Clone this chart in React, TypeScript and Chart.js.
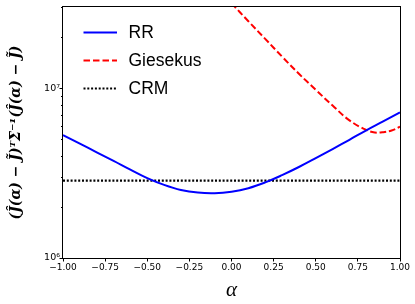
import React, { useEffect, useRef } from "react";
import { Chart, registerables } from "chart.js";

Chart.register(...registerables);

// ---- data ----
const rrAlpha = [-1.0, -0.9, -0.8, -0.7, -0.6, -0.5, -0.4, -0.3, -0.2, -0.1, 0.0, 0.1, 0.2, 0.3, 0.4, 0.5, 0.6, 0.7, 0.8, 0.9, 1.0];
const rrValues = [5.31e6, 4.73e6, 4.2e6, 3.74e6, 3.32e6, 2.96e6, 2.7e6, 2.52e6, 2.43e6, 2.41e6, 2.46e6, 2.58e6, 2.79e6, 3.08e6, 3.44e6, 3.88e6, 4.39e6, 4.98e6, 5.66e6, 6.39e6, 7.22e6];

const giesekusAlpha = [0.0, 0.1, 0.2, 0.3, 0.4, 0.5, 0.6, 0.7, 0.8, 0.85, 0.9, 0.95, 1.0];
const giesekusValues = [3.18e7, 2.49e7, 1.96e7, 1.54e7, 1.22e7, 9.81e6, 7.92e6, 6.48e6, 5.69e6, 5.5e6, 5.52e6, 5.65e6, 5.94e6];

const crmAlpha = [-1.0, 1.0];
const crmValues = [2.86e6, 2.86e6];

const seriesLabels = ["RR", "Giesekus", "CRM"];

const xTickValues = [-1, -0.75, -0.5, -0.25, 0, 0.25, 0.5, 0.75, 1];
const yTickValues = [1e6, 1e7];
const yTickLabels = ["10\u2076", "10\u2077"];

const yMin = 1e6;
const yMax = 3.02e7;

const yTitle = "(\u0134(\u03B1) \u2212 J\u0303)\u1D40\u03A3\u207B\u00B9(\u0134(\u03B1) \u2212 J\u0303)";
const xTitle = "\u03B1";

function pts(xs: number[], ys: number[]) {
  return xs.map((x, i) => ({ x, y: ys[i] }));
}

const framePlugin = {
  id: "frameAndTicks",
  afterDatasetsDraw(chart: any) {
    const { ctx, chartArea } = chart;
    const { left, right, top, bottom } = chartArea;
    const ys = chart.scales.y;
    ctx.save();
    ctx.strokeStyle = "#000";
    ctx.lineWidth = 1;
    ctx.setLineDash([]);
    ys.ticks.forEach((t: any) => {
      const v = t.value;
      const e = Math.floor(Math.log10(v) + 1e-9);
      const m = v / Math.pow(10, e);
      const isMajor = Math.abs(m - 1) < 1e-6;
      const isMinor = Math.abs(m - Math.round(m)) < 1e-6 && m >= 2 && m <= 9;
      if (!isMajor && !isMinor) return;
      const y = Math.round(ys.getPixelForValue(v)) + 0.5;
      const len = isMajor ? 3.5 : 2;
      ctx.beginPath();
      ctx.moveTo(left - len, y);
      ctx.lineTo(left, y);
      ctx.stroke();
    });
    ctx.strokeRect(Math.round(left) - 0.5, Math.round(top) - 0.5, Math.round(right - left) + 1, Math.round(bottom - top) + 1);

    const lx0 = left + 20.5;
    const lx1 = left + 54;
    const tx = left + 65.5;
    ctx.font = "17.5px 'Liberation Sans', Arial, sans-serif";
    ctx.textBaseline = "middle";
    ctx.textAlign = "left";
    chart.data.datasets.forEach((ds: any, i: number) => {
      const y = top + 25.5 + 28 * i;
      ctx.beginPath();
      ctx.strokeStyle = ds.borderColor;
      ctx.lineWidth = ds.borderWidth;
      ctx.setLineDash(ds.borderDash || []);
      ctx.moveTo(lx0, y);
      ctx.lineTo(lx1, y);
      ctx.stroke();
      ctx.setLineDash([]);
      ctx.fillStyle = "#000";
      ctx.fillText(ds.label, tx, y + 1);
    });
    ctx.restore();
  },
};

export default function App() {
  const ref = useRef<HTMLCanvasElement | null>(null);

  useEffect(() => {
    document.body.style.margin = "0";
    const canvas = ref.current;
    if (!canvas) return;
    const chart = new Chart(canvas, {
      type: "line",
      data: {
        datasets: [
          {
            label: seriesLabels[0],
            data: pts(rrAlpha, rrValues),
            borderColor: "#0000ff",
            borderWidth: 2,
            pointRadius: 0,
            tension: 0.4,
            fill: false,
          },
          {
            label: seriesLabels[1],
            data: pts(giesekusAlpha, giesekusValues),
            borderColor: "#ff0000",
            borderWidth: 2,
            borderDash: [6.5, 3],
            pointRadius: 0,
            tension: 0.4,
            fill: false,
          },
          {
            label: seriesLabels[2],
            data: pts(crmAlpha, crmValues),
            borderColor: "#000000",
            borderWidth: 2.2,
            borderDash: [2, 1.8],
            pointRadius: 0,
            fill: false,
          },
        ],
      } as any,
      options: {
        responsive: false,
        animation: false,
        devicePixelRatio: 1,
        layout: { padding: { left: 0, right: 15, top: 7, bottom: 0 } },
        plugins: {
          legend: { display: false },
          tooltip: { enabled: false },
        },
        scales: {
          x: {
            type: "linear",
            min: -1,
            max: 1,
            afterFit: (s: any) => {
              s.height = 46;
              s.paddingLeft = 0;
              s.paddingRight = 0;
            },
            afterBuildTicks: (s: any) => {
              s.ticks = xTickValues.map((v) => ({ value: v }));
            },
            ticks: {
              color: "#000",
              font: { family: "'DejaVu Sans'", size: 9 },
              padding: 1,
              maxRotation: 0,
              autoSkip: false,
              callback: (v: any) => {
                const n = Number(v);
                const s = Math.abs(n).toFixed(2);
                return n < 0 ? "\u2212" + s : s;
              },
            },
            grid: {
              display: true,
              drawOnChartArea: false,
              drawTicks: true,
              tickLength: 3.5,
              color: "#000",
              lineWidth: 1,
            },
            border: { display: false },
            title: {
              display: true,
              text: xTitle,
              color: "#000",
              font: { family: "'Liberation Serif', 'DejaVu Serif', serif", size: 21, style: "italic" },
              padding: { top: 0, bottom: 1 },
            },
          },
          y: {
            type: "logarithmic",
            min: yMin,
            max: yMax,
            afterFit: (s: any) => {
              s.width = 63;
              s.paddingTop = 0;
              s.paddingBottom = 0;
            },
            ticks: {
              color: "#000",
              font: { family: "'DejaVu Sans'", size: 9.5 },
              padding: 3,
              autoSkip: false,
              callback: (v: any) => {
                const idx = yTickValues.findIndex((t) => Math.abs(t - Number(v)) / t < 1e-9);
                return idx >= 0 ? yTickLabels[idx] : "";
              },
            },
            grid: { display: false, drawTicks: false },
            border: { display: false },
            title: {
              display: true,
              text: yTitle,
              color: "#000",
              font: { family: "'DejaVu Serif', serif", size: 14, style: "italic", weight: "bold" },
              padding: { top: 8, bottom: 0 },
            },
          },
        },
      } as any,
      plugins: [framePlugin],
    });
    return () => chart.destroy();
  }, []);

  return (
    <div style={{ width: 415, height: 304 }}>
      <canvas ref={ref} width={415} height={304} style={{ display: "block" }} />
    </div>
  );
}
